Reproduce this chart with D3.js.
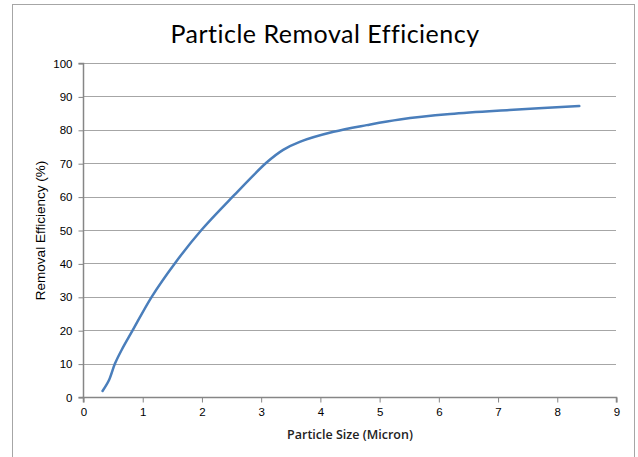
<!DOCTYPE html>
<html><head><meta charset="utf-8">
<script src="https://cdn.jsdelivr.net/npm/d3@7"></script>
<style>body{margin:0;background:#fff}svg{display:block}</style>
</head><body><svg id="c" width="638" height="457"></svg>
<script>
const sizes = [0.33,0.44,0.54,0.65,0.84,1.16,1.55,2.0,2.54,3.1,3.38,3.66,4.23,4.79,5.35,6.2,7.2,8.38];
const efficiency = [1.8,5.1,10,14,20,30,40,50,60.2,70.2,74,76.4,79.4,81.4,83.1,84.7,85.9,87.1];
const xTicks = [0,1,2,3,4,5,6,7,8,9];
const yTicks = [0,10,20,30,40,50,60,70,80,90,100];
const title = "Particle Removal Efficiency";
const xTitle = "Particle Size (Micron)";
const yTitle = "Removal Efficiency (%)";

const svg = d3.select("#c");
svg.append("rect").attr("x",12.5).attr("y",4.5).attr("width",622).attr("height",470)
  .attr("fill","#fff").attr("stroke","#a6a6a6");
const x = d3.scaleLinear().domain([0,9]).range([83,616]);
const y = d3.scaleLinear().domain([0,100]).range([397,63]);

svg.append("g").selectAll("line").data(yTicks.slice(1)).join("line")
  .attr("x1",83).attr("x2",616).attr("y1",d=>Math.round(y(d))+0.5).attr("y2",d=>Math.round(y(d))+0.5)
  .attr("stroke","#a6a6a6").attr("stroke-width",1.2);

const yAxis = svg.append("g").attr("transform","translate(83.5,0.5)")
  .call(d3.axisLeft(y).tickValues(yTicks).tickSize(5).tickPadding(6));
const xAxis = svg.append("g").attr("transform","translate(0.5,397.5)")
  .call(d3.axisBottom(x).tickValues(xTicks).tickSize(5).tickPadding(5));
[yAxis,xAxis].forEach(a=>{
  a.selectAll(".domain").attr("stroke","#868686").attr("stroke-width",1.5);
  a.selectAll(".tick line").attr("stroke","#868686");
  a.selectAll("text").attr("font-family","'Liberation Sans',Arial,sans-serif").attr("font-size",11.5).attr("fill","#000");
});
xAxis.select(".domain").attr("d","M83,5V0H616V5");
yAxis.select(".domain").attr("d","M-5,63H0V397H-5");

const line = d3.line().x((d,i)=>x(sizes[i])).y(d=>y(d)).curve(d3.curveCatmullRom.alpha(0.5));
svg.append("path").attr("d",line(efficiency)).attr("fill","none")
  .attr("stroke","#4a7ebb").attr("stroke-width",2.5).attr("stroke-linecap","round");

svg.append("text").attr("x",325).attr("y",43).attr("text-anchor","middle")
  .attr("font-family","Lato,sans-serif").attr("font-size",25).attr("letter-spacing",0.5)
  .attr("fill","#000").text(title);
svg.append("text").attr("x",350).attr("y",439).attr("text-anchor","middle")
  .attr("font-family","'Open Sans',sans-serif").attr("font-weight",600).attr("font-size",12.5).attr("fill","#222").text(xTitle);
svg.append("text").attr("transform","translate(45,230.5) rotate(-90)").attr("text-anchor","middle")
  .attr("font-family","'Liberation Sans',Arial,sans-serif").attr("font-size",13.5).attr("fill","#000").text(yTitle);
</script></body></html>
